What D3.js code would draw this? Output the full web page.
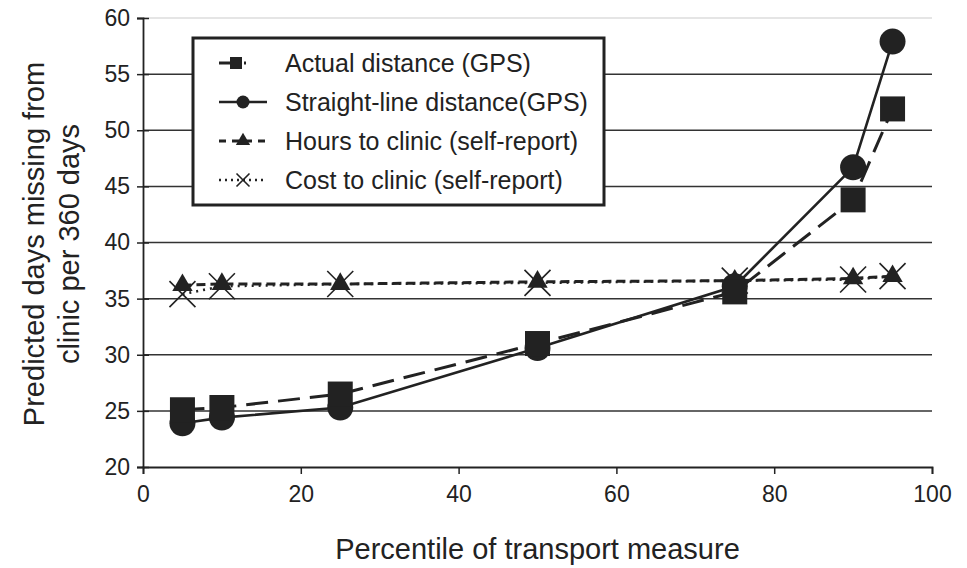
<!DOCTYPE html>
<html>
<head>
<meta charset="utf-8">
<script src="https://d3js.org/d3.v7.min.js"></script>
<style>
  body { margin: 0; background: #fff; }
  text { font-family: "Liberation Sans", Arial, sans-serif; fill: #222; }
</style>
</head>
<body>
<div id="chart"></div>
<script>
// data
const percentiles = [5, 10, 25, 50, 75, 90, 95];
const actualDist = [25.1, 25.3, 26.5, 31.0, 35.6, 43.8, 51.9];
const straightDist = [23.9, 24.4, 25.3, 30.6, 36.1, 46.7, 57.9];
const hoursClinic = [36.2, 36.3, 36.3, 36.5, 36.6, 36.8, 37.0];
const costClinic = [35.4, 36.1, 36.3, 36.4, 36.6, 36.7, 37.0];
const seriesNames = ["Actual distance (GPS)", "Straight-line distance(GPS)",
  "Hours to clinic (self-report)", "Cost to clinic (self-report)"];
const xTicks = [0, 20, 40, 60, 80, 100];
const yTicks = [20, 25, 30, 35, 40, 45, 50, 55, 60];

(function(){
  const svgWidth = 967, svgHeight = 568;
  const margin = {top: 18, right: 35, bottom: 101, left: 143};
  const width = svgWidth - margin.left - margin.right;
  const height = svgHeight - margin.top - margin.bottom;
  const ink = "#222";

  const svg = d3.select("#chart").append("svg")
    .attr("width", svgWidth).attr("height", svgHeight);
  const g = svg.append("g").attr("transform", `translate(${margin.left},${margin.top})`);

  const x = d3.scaleLinear().domain([0, 100]).range([0, width]);
  const y = d3.scaleLinear().domain([20, 60]).range([height, 0]);

  // gridlines
  g.selectAll(".grid").data(yTicks.filter(v => v > 20)).enter().append("line")
    .attr("x1", 0).attr("x2", width)
    .attr("y1", d => y(d)).attr("y2", d => y(d))
    .attr("stroke", d => d === 60 ? "#ddd" : "#333")
    .attr("stroke-width", 1.5);

  // axes
  const xAxis = g.append("g").attr("transform", `translate(0,${height})`)
    .call(d3.axisBottom(x).tickValues(xTicks).tickSize(7).tickPadding(12));
  const yAxis = g.append("g")
    .call(d3.axisLeft(y).tickValues(yTicks).tickSize(6).tickPadding(7));
  [xAxis, yAxis].forEach(a => {
    a.select(".domain").attr("stroke", ink).attr("stroke-width", 1.8);
    a.selectAll(".tick line").attr("stroke", ink).attr("stroke-width", 1.5);
    a.selectAll(".tick text").attr("font-size", 23).attr("fill", ink)
      .attr("font-family", "'Liberation Sans', Arial, sans-serif");
  });
  // y ticks cross the axis
  yAxis.selectAll(".tick line").attr("x2", -6).attr("x1", 6);

  // series
  const series = [
    {vals: actualDist, dash: "22,10", w: 3, marker: "square"},
    {vals: straightDist, dash: null, w: 2.6, marker: "circle"},
    {vals: hoursClinic, dash: "9,5", w: 3, marker: "triangle"},
    {vals: costClinic, dash: "2,5", w: 2.6, marker: "cross"}
  ];
  const line = d3.line().x((d, i) => x(percentiles[i])).y(d => y(d));

  function drawMarker(sel, type, size) {
    if (type === "square") {
      sel.append("rect").attr("x", -size/2).attr("y", -size/2)
        .attr("width", size).attr("height", size).attr("fill", ink);
    } else if (type === "circle") {
      sel.append("circle").attr("r", size/2).attr("fill", ink);
    } else if (type === "triangle") {
      sel.append("path").attr("d", d3.symbol(d3.symbolTriangle, size * size * 0.45)())
        .attr("fill", ink);
    } else {
      const h = size / 2;
      sel.append("path").attr("d", `M${-h},${-h}L${h},${h}M${-h},${h}L${h},${-h}`)
        .attr("stroke", ink).attr("stroke-width", 1.6).attr("fill", "none");
    }
  }

  // draw from back to front: cost, hours, straight, actual
  [3, 2, 1, 0].forEach(k => {
    const s = series[k];
    g.append("path").datum(s.vals).attr("d", line)
      .attr("fill", "none").attr("stroke", ink).attr("stroke-width", s.w)
      .attr("stroke-dasharray", s.dash);
  });
  [3, 2, 1, 0].forEach(k => {
    const s = series[k];
    const sizes = {square: 25, circle: 26, triangle: 20, cross: 26};
    s.vals.forEach((v, i) => {
      const m = g.append("g").attr("transform", `translate(${x(percentiles[i])},${y(v)})`);
      drawMarker(m, s.marker, sizes[s.marker]);
    });
  });

  // legend
  const lg = svg.append("g").attr("transform", "translate(193,38)");
  lg.append("rect").attr("width", 411).attr("height", 167)
    .attr("fill", "#fff").attr("stroke", ink).attr("stroke-width", 3);
  seriesNames.forEach((name, i) => {
    const s = series[i];
    const ly = 25 + i * 39;
    lg.append("line").attr("x1", 26).attr("x2", 74).attr("y1", ly).attr("y2", ly)
      .attr("stroke", ink).attr("stroke-width", s.w)
      .attr("stroke-dasharray", i === 0 ? "17,8,2,100" : (i === 2 ? "7,6" : (i === 3 ? "2,4" : null)));
    const sizes = {square: 12, circle: 13, triangle: 14, cross: 13};
    drawMarker(lg.append("g").attr("transform", `translate(${i === 0 ? 43 : 50},${ly})`), s.marker, sizes[s.marker]);
    lg.append("text").attr("x", 92).attr("y", ly).attr("dy", "0.36em")
      .attr("font-size", 25).attr("fill", ink).text(name);
  });

  // axis titles
  svg.append("text").attr("x", margin.left + width / 2).attr("y", 559)
    .attr("text-anchor", "middle").attr("font-size", 29)
    .text("Percentile of transport measure");
  const yt = svg.append("text").attr("transform", "translate(0,244) rotate(-90)")
    .attr("text-anchor", "middle").attr("font-size", 29);
  yt.append("tspan").attr("x", 0).attr("y", 44).text("Predicted days missing from");
  yt.append("tspan").attr("x", 0).attr("y", 79).text("clinic per 360 days");
})();
</script>
</body>
</html>
